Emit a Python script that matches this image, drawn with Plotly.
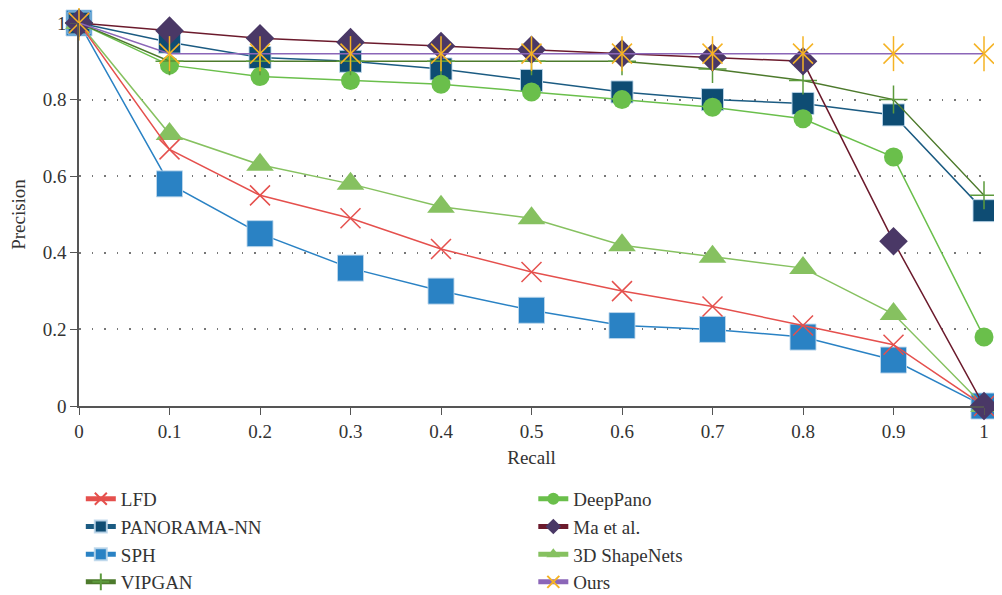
import plotly.graph_objects as go

recall = [0, 0.1, 0.2, 0.3, 0.4, 0.5, 0.6, 0.7, 0.8, 0.9, 1.0]

lfd = [1.0, 0.67, 0.55, 0.49, 0.41, 0.35, 0.30, 0.26, 0.21, 0.16, 0.0]
panorama = [1.0, 0.95, 0.91, 0.90, 0.88, 0.85, 0.82, 0.80, 0.79, 0.76, 0.51]
sph = [1.0, 0.58, 0.45, 0.36, 0.30, 0.25, 0.21, 0.20, 0.18, 0.12, 0.0]
vipgan = [1.0, 0.90, 0.90, 0.90, 0.90, 0.90, 0.90, 0.88, 0.85, 0.80, 0.55]
deeppano = [1.0, 0.89, 0.86, 0.85, 0.84, 0.82, 0.80, 0.78, 0.75, 0.65, 0.18]
ma = [1.0, 0.98, 0.96, 0.95, 0.94, 0.93, 0.92, 0.91, 0.90, 0.43, 0.0]
shapenets = [1.0, 0.71, 0.63, 0.58, 0.52, 0.49, 0.42, 0.39, 0.36, 0.24, 0.0]
ours = [1.0, 0.92, 0.92, 0.92, 0.92, 0.92, 0.92, 0.92, 0.92, 0.92, 0.92]

x_ticks = [0, 0.1, 0.2, 0.3, 0.4, 0.5, 0.6, 0.7, 0.8, 0.9, 1.0]
x_ticktext = ["0", "0.1", "0.2", "0.3", "0.4", "0.5", "0.6", "0.7", "0.8", "0.9", "1"]
y_ticks = [0, 0.2, 0.4, 0.6, 0.8, 1.0]
y_ticktext = ["0", "0.2", "0.4", "0.6", "0.8", "1"]

SERIF = "Liberation Serif, DejaVu Serif, serif"
TXT = "#333333"

fig = go.Figure()

def add(name, y, line_color, marker_color, symbol, size, legend, rank,
        mline=None, showlegend=True):
    marker = dict(symbol=symbol, size=size, color=marker_color)
    if symbol.endswith("-open"):
        marker["line"] = dict(color=marker_color, width=1.5)
    elif mline:
        marker["line"] = mline
    else:
        marker["line"] = dict(width=0)
    fig.add_trace(go.Scatter(
        x=recall, y=y, name=name, mode="lines+markers",
        line=dict(color=line_color, width=1.5),
        marker=marker, legend=legend, legendrank=rank,
        showlegend=showlegend, cliponaxis=False,
    ))

sq_border = dict(color="rgba(190,215,235,0.9)", width=1)

# draw order (bottom to top)
add("SPH", sph, "#2a82c4", "#2a82c4", "square", 26, "legend", 3, mline=sq_border)
add("PANORAMA-NN", panorama, "#1b5b82", "#0e4c73", "square", 22, "legend", 2, mline=sq_border)
add("3D ShapeNets", shapenets, "#86c160", "#86c160", "triangle-up", 24, "legend2", 3)
add("DeepPano", deeppano, "#6abf4b", "#6abf4b", "circle", 19, "legend2", 1)
add("LFD", lfd, "#e5504d", "#e5504d", "x-thin-open", 20, "legend", 1)
add("VIPGAN", vipgan, "#4d7a2c", "#5c9a3c", "cross-thin-open", 20, "legend", 4)
add("Ma et al.", ma, "#6b1a2c", "#4a3866", "diamond", 22, "legend2", 2)
add("Ours", ours, "#8b66b8", "#f5b324", "x-thin-open", 20, "legend2", 4)
# vertical stroke of the asterisk marker (no line, no legend)
fig.add_trace(go.Scatter(
    x=recall, y=ours, mode="markers", showlegend=False, cliponaxis=False,
    marker=dict(symbol="line-ns-open", size=25, color="#f5b324",
                line=dict(color="#f5b324", width=1.5)),
))

leg_common = dict(
    xanchor="left", yanchor="top",
    orientation="v", itemsizing="constant",
    font=dict(family=SERIF, size=19, color=TXT),
    bgcolor="rgba(0,0,0,0)", tracegroupgap=0,
)

# page body has an 8px margin, so the figure is sized/offset to compensate
fig.update_layout(
    width=994, height=587,
    margin=dict(l=71, r=18, t=15, b=189, autoexpand=False),
    paper_bgcolor="white", plot_bgcolor="white",
    font=dict(family=SERIF, size=19, color=TXT),
    xaxis=dict(
        range=[0, 1], tickvals=x_ticks, ticktext=x_ticktext, automargin=False,
        showgrid=False, zeroline=False, showline=True, linecolor="#555555",
        linewidth=1.5, ticks="outside", ticklen=7, tickcolor="#555555",
        tickfont=dict(family=SERIF, size=19, color=TXT),
        title=dict(text="Recall", font=dict(family=SERIF, size=19, color=TXT), standoff=10),
    ),
    yaxis=dict(
        range=[0, 1], tickvals=y_ticks, ticktext=y_ticktext, automargin=False,
        showgrid=True, gridcolor="#777777", griddash="1.5px,11px", gridwidth=1.5,
        zeroline=False, showline=True, linecolor="#555555", linewidth=1.5,
        ticks="outside", ticklen=7, tickcolor="#555555",
        tickfont=dict(family=SERIF, size=19, color=TXT),
        title=dict(text="Precision", font=dict(family=SERIF, size=19, color=TXT), standoff=12),
    ),
    legend=dict(x=0.002, y=-0.193, **leg_common),
    legend2=dict(x=0.502, y=-0.193, **leg_common),
)

fig.write_html("out.html")
